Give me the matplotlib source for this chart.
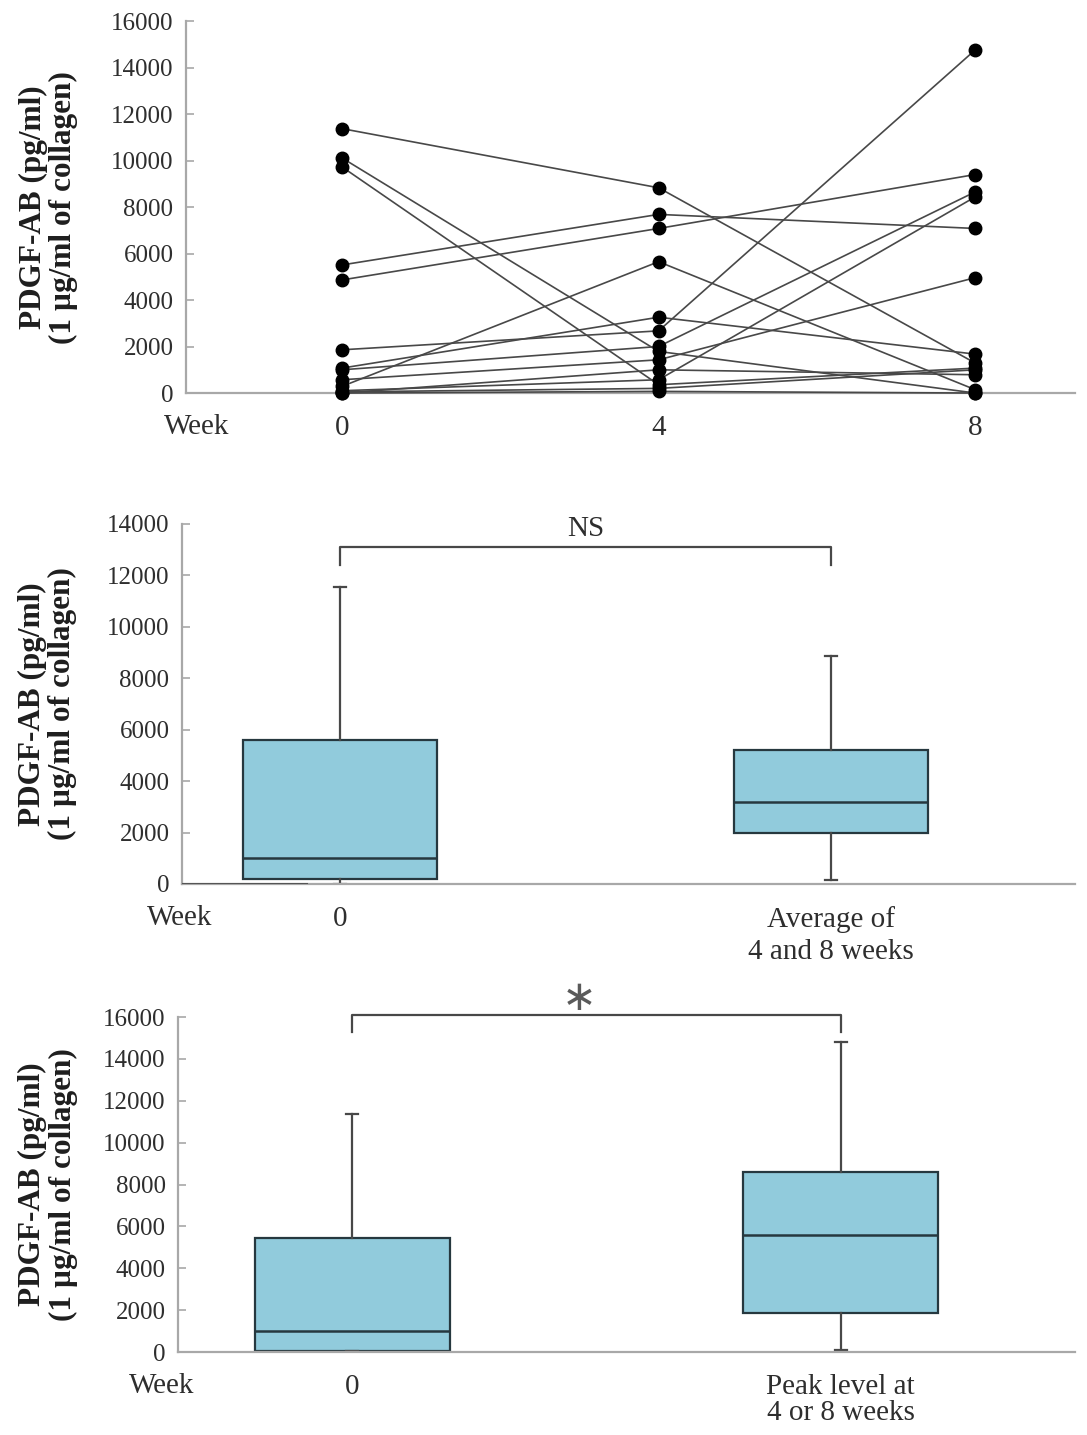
import numpy as np
import matplotlib
matplotlib.use("Agg")
import matplotlib.pyplot as plt

plt.rcParams['font.family'] = ['Liberation Serif', 'DejaVu Serif']

# ---- data ----
weeks = [0, 4, 8]
week0 = [11375, 10115, 9730, 5510, 4865, 1860, 1073, 1000, 286, 572, 100, 0, 0, 50]
week4 = [8830, 1790, 358, 7685, 7080, 2675, 3262, 2003, 5650, 1430, 572, 1000, 72, 200]
week8 = [1288, 0, 1073, 7080, 9400, 14764, 1674, 8655, 143, 4964, 8440, 787, 0, 1000]

# box statistics (whislo, q1, med, q3, whishi)
avg_labels = ['0', 'Average of\n4 and 8 weeks']
avg_whislo = [0, 155]
avg_q1 = [181, 1970]
avg_med = [1024, 3202]
avg_q3 = [5600, 5211]
avg_whishi = [11563, 8867]

peak_labels = ['0', 'Peak level at\n4 or 8 weeks']
peak_whislo = [32, 112]
peak_q1 = [32, 1882]
peak_med = [989, 5585]
peak_q3 = [5455, 8584]
peak_whishi = [11358, 14790]

ylabel = 'PDGF-AB (pg/ml)\n(1 µg/ml of collagen)'
box_fill = '#91cbdc'
box_edge = '#26383f'
spine_col = '#a8a8a8'
line_col = '#484848'
text_col = '#2e2e2e'
tick_fs = 18
cat_fs = 21

fig = plt.figure(figsize=(10.87, 14.35), dpi=100)


def style_axes(ax, ymax, xpad):
    for s in ['top', 'right']:
        ax.spines[s].set_visible(False)
    for s in ['left', 'bottom']:
        ax.spines[s].set_color(spine_col)
        ax.spines[s].set_linewidth(1.6)
    ax.set_ylim(0, ymax)
    ax.set_yticks(np.arange(0, ymax + 1, 2000))
    ax.tick_params(axis='y', direction='in', length=6, width=1.2, color=spine_col,
                   labelsize=tick_fs, labelcolor=text_col, pad=9)
    ax.tick_params(axis='x', length=0, labelsize=cat_fs, labelcolor=text_col, pad=xpad)
    ax.set_ylabel(ylabel, fontsize=22.5, fontweight='bold', color='#1e1e1e', linespacing=1.07)


# ---- top: individual trajectories ----
ax1 = fig.add_axes([0.1711, 0.7261, 0.8179, 0.2592])
for a, b, c in zip(week0, week4, week8):
    ax1.plot(weeks, [a, b, c], color=line_col, lw=1.2, marker='o', ms=9,
             mfc='black', mec='black', clip_on=False, zorder=3)
ax1.set_xlim(-1.97, 9.26)
ax1.set_xticks(weeks)
ax1.set_xticklabels([str(w) for w in weeks])
style_axes(ax1, 16000, 16)
ax1.yaxis.set_label_coords(-0.121, 0.5)
ax1.text(0.012, -0.09, 'Week', transform=ax1.transAxes, ha='center', va='center',
         fontsize=cat_fs, color=text_col)


def box_panel(rect, labels, lo, q1, med, q3, hi, ymax, xlim, width, ls):
    ax = fig.add_axes(rect)
    stats = [dict(whislo=lo[i], q1=q1[i], med=med[i], q3=q3[i], whishi=hi[i])
             for i in range(len(labels))]
    ax.bxp(stats, positions=[0, 1], widths=width, showfliers=False, patch_artist=True,
           capwidths=0.025,
           boxprops=dict(facecolor=box_fill, edgecolor=box_edge, lw=1.6),
           medianprops=dict(color=box_edge, lw=1.8),
           whiskerprops=dict(color=line_col, lw=1.6),
           capprops=dict(color=line_col, lw=1.6))
    ax.set_xlim(*xlim)
    ax.set_xticks([0, 1])
    ax.set_xticklabels(labels, linespacing=ls)
    style_axes(ax, ymax, 16)
    return ax


# ---- middle: week 0 vs average ----
ax2 = box_panel([0.1674, 0.3840, 0.8215, 0.2509], avg_labels, avg_whislo, avg_q1,
                avg_med, avg_q3, avg_whishi, 14000, (-0.322, 1.497), 0.397, 1.3)
ax2.axhline(0, xmin=0, xmax=0.139, color='#555555', lw=2.2, zorder=4)
ax2.yaxis.set_label_coords(-0.117, 0.5)
ax2.text(-0.003, -0.095, 'Week', transform=ax2.transAxes, ha='center', va='center',
         fontsize=cat_fs, color=text_col)
ax2.plot([0, 0, 1, 1], [12400, 13120, 13120, 12400], color=line_col, lw=1.6)
ax2.text(0.5, 13300, 'NS', ha='center', va='bottom', fontsize=cat_fs, color=text_col)

# ---- bottom: week 0 vs peak ----
ax3 = box_panel([0.1638, 0.0578, 0.8252, 0.2334], peak_labels, peak_whislo, peak_q1,
                peak_med, peak_q3, peak_whishi, 16000, (-0.357, 1.48), 0.40, 1.0)
ax3.yaxis.set_label_coords(-0.112, 0.5)
ax3.text(-0.018, -0.1, 'Week', transform=ax3.transAxes, ha='center', va='center',
         fontsize=cat_fs, color=text_col)
ax3.plot([0, 0, 1, 1], [15300, 16110, 16110, 15300], color=line_col, lw=1.6, clip_on=False)
ax3.text(0.465, 16900, '\u2217', ha='center', va='center', fontsize=30, color='#5a5a5a',
         family='DejaVu Sans')

fig.savefig('out.png', dpi=100)
